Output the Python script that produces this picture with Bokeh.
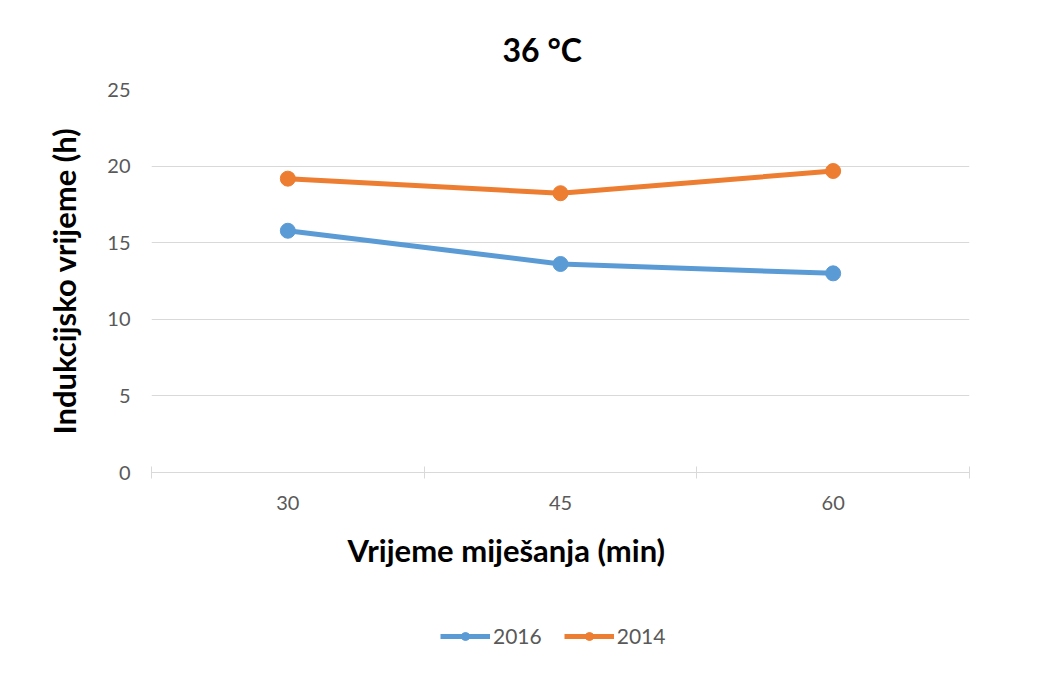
from bokeh.plotting import figure
from bokeh.models import FixedTicker, Legend, LegendItem, ColumnDataSource, Range1d
from bokeh.core.properties import value
from bokeh.layouts import column
from bokeh.embed import file_html
from bokeh.resources import INLINE

categories = ["30", "45", "60"]
series_names = ["2016", "2014"]
values_2016 = [15.78, 13.61, 13.0]
values_2014 = [19.18, 18.23, 19.68]
y_ticks = [0, 5, 10, 15, 20, 25]
x_title = "Vrijeme miješanja (min)"
y_title = "Indukcijsko vrijeme (h)"
chart_title = "36 °C"

colors = ["#5B9BD5", "#ED7D31"]
FONT = "Lato"

xs = [i + 0.5 for i in range(len(categories))]
bounds = list(range(len(categories) + 1))

W, FW, ML, MR = 1061, 818, 151, 92


def strip(height):
    f = figure(
        width=W, height=height, frame_width=FW,
        x_range=Range1d(0, FW), y_range=Range1d(height, 0),
        x_axis_type=None, y_axis_type=None, title=None,
        output_backend="svg", toolbar_location=None,
        min_border_left=ML, min_border_right=MR, min_border_top=0, min_border_bottom=0,
    )
    f.outline_line_color = None
    f.xgrid.grid_line_color = None
    f.ygrid.grid_line_color = None
    f.background_fill_color = "white"
    f.border_fill_color = "white"
    return f


# top strip: chart title
p0 = strip(77)
p0.text(x=[351], y=[49], text=[chart_title], text_font=value(FONT), text_font_size="32px",
        text_font_style="bold", text_color="black", text_align="left",
        text_baseline="alphabetic")

# main chart
p = figure(
    width=W, height=453, frame_width=FW, frame_height=383,
    x_range=(0, len(categories)), y_range=(0, 25), title=None,
    output_backend="svg", toolbar_location=None,
    min_border_left=ML, min_border_top=12, min_border_bottom=58, min_border_right=MR,
)
p.outline_line_color = None
p.background_fill_color = "white"
p.border_fill_color = "white"

p.xgrid.grid_line_color = None
p.ygrid.grid_line_color = "#d9d9d9"
p.ygrid.grid_line_width = 1
p.ygrid.ticker = FixedTicker(ticks=y_ticks)

p.yaxis.ticker = FixedTicker(ticks=y_ticks)
p.yaxis.axis_line_color = None
p.yaxis.major_tick_line_color = None
p.yaxis.minor_tick_line_color = None
p.yaxis.major_tick_out = 0
p.yaxis.major_tick_in = 0
p.yaxis.major_label_standoff = 21
p.yaxis.major_label_text_font = FONT
p.yaxis.major_label_text_font_size = "20px"
p.yaxis.major_label_text_color = "#595959"
p.yaxis.axis_label = y_title
p.yaxis.axis_label_text_font = FONT
p.yaxis.axis_label_text_font_size = "31px"
p.yaxis.axis_label_text_font_style = "bold"
p.yaxis.axis_label_text_color = "black"
p.yaxis.axis_label_standoff = 21

p.xaxis.ticker = FixedTicker(ticks=xs, minor_ticks=bounds)
p.xaxis.major_label_overrides = {x: c for x, c in zip(xs, categories)}
p.xaxis.axis_line_color = "#d9d9d9"
p.xaxis.axis_line_width = 1
p.xaxis.major_tick_line_color = None
p.xaxis.major_tick_out = 0
p.xaxis.major_tick_in = 0
p.xaxis.minor_tick_line_color = "#d9d9d9"
p.xaxis.minor_tick_out = 6
p.xaxis.minor_tick_in = 6
p.xaxis.major_label_standoff = 17
p.xaxis.major_label_text_font = FONT
p.xaxis.major_label_text_font_size = "20px"
p.xaxis.major_label_text_color = "#595959"

for name, vals, col in zip(series_names, [values_2016, values_2014], colors):
    src = ColumnDataSource(dict(x=xs, y=vals))
    p.line("x", "y", source=src, line_color=col, line_width=5)
    p.scatter("x", "y", source=src, size=15, fill_color=col, line_color=col)

# bottom strip: x-axis title and legend
p2 = strip(146)
p2.text(x=[196], y=[19], text=[x_title], text_font=value(FONT), text_font_size="31px",
        text_font_style="bold", text_color="black", text_align="left",
        text_baseline="alphabetic")

# legend renderers use the series data on an off-screen range (clipped by the frame)
p2.extra_x_ranges = {"off": Range1d(100, 101)}
items = []
for name, vals, col in zip(series_names, [values_2016, values_2014], colors):
    src = ColumnDataSource(dict(x=xs, y=vals))
    r1 = p2.line("x", "y", source=src, line_color=col, line_width=5, x_range_name="off")
    r2 = p2.scatter("x", "y", source=src, size=15, fill_color=col, line_color=col,
                    x_range_name="off")
    items.append(LegendItem(label=name, renderers=[r1, r2]))

legend = Legend(items=items, orientation="horizontal", location=(289, 28))
legend.glyph_width = 50
legend.glyph_height = 20
legend.label_text_font = FONT
legend.label_text_font_size = "21px"
legend.label_text_color = "#595959"
legend.label_standoff = 3
legend.spacing = 22
legend.padding = 0
legend.margin = 0
legend.border_line_color = None
legend.background_fill_alpha = 0
p2.add_layout(legend, "center")

layout = column(p0, p, p2, spacing=0)
open("out.html", "w").write(file_html(layout, INLINE))
